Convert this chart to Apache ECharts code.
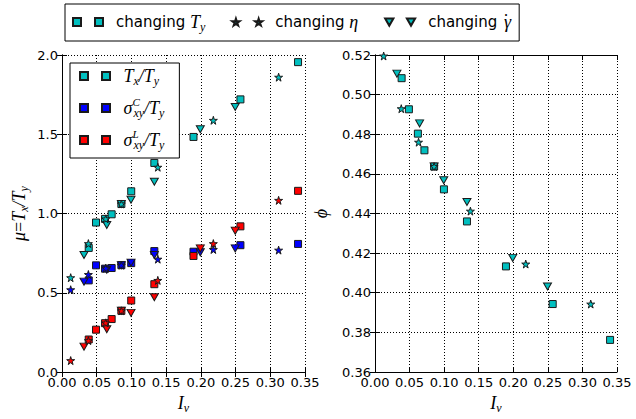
<!DOCTYPE html>
<html>
<head>
<meta charset="utf-8">
<script src="https://cdn.jsdelivr.net/npm/echarts@6/dist/echarts.min.js"></script>
<style>html,body{margin:0;padding:0;background:#fff;}#c{width:636px;height:419px;}</style>
</head>
<body>
<div id="c"></div>
<script>
// ---- data ----
// changing T_y (squares)
const IvSq   = [0.0385, 0.049, 0.062, 0.0715, 0.0855, 0.0997, 0.133, 0.1894, 0.257, 0.340];
const muSq   = [0.783, 0.943, 0.966, 0.995, 1.060, 1.140, 1.319, 1.483, 1.720, 1.955];
const sigCSq = [0.578, 0.673, 0.652, 0.656, 0.674, 0.687, 0.763, 0.759, 0.800, 0.808];
const sigLSq = [0.205, 0.267, 0.308, 0.334, 0.386, 0.451, 0.554, 0.732, 0.919, 1.143];
const phiSq  = [0.5083, 0.4926, 0.4803, 0.4719, 0.4637, 0.4522, 0.4360, 0.4133, 0.3943, 0.3762];
// changing eta (stars)
const IvSt   = [0.0125, 0.038, 0.063, 0.0855, 0.138, 0.218, 0.312];
const muSt   = [0.595, 0.810, 0.966, 1.060, 1.292, 1.588, 1.860];
const sigCSt = [0.519, 0.615, 0.655, 0.674, 0.712, 0.773, 0.769];
const sigLSt = [0.072, 0.198, 0.310, 0.386, 0.578, 0.810, 1.083];
const phiSt  = [0.5195, 0.4929, 0.4760, 0.4637, 0.4412, 0.4145, 0.3943];
// changing gamma-dot (down triangles)
const IvTr   = [0.0317, 0.0645, 0.0855, 0.0994, 0.133, 0.1992, 0.2495];
const muTr   = [0.738, 0.927, 1.060, 1.087, 1.200, 1.532, 1.672];
const sigCTr = [0.570, 0.645, 0.674, 0.690, 0.738, 0.755, 0.780];
const sigLTr = [0.160, 0.270, 0.386, 0.373, 0.472, 0.780, 0.892];
const phiTr  = [0.5106, 0.4855, 0.4637, 0.4568, 0.4458, 0.4176, 0.4032];

const legendTop = ['changing T_y', 'changing eta', 'changing gammadot'];
const legendIn  = ['Tx/Ty', 'sigC/Ty', 'sigL/Ty'];

// ---- styling ----
const CY = '#00bfbf', BL = '#0000ff', RD = '#ff0000';
const EDGE = '#1a1a1a';
const STAR = 'path://M50,0L61,35L98,35L68,57L79,91L50,70L21,91L32,57L2,35L39,35Z';
const TRI = 'path://M0,0L10,0L5,9Z';
const twoSq = 'path://M0,0h8v8h-8z M22,0h8v8h-8z';
const twoStar = 'path://M50,0L61,35L98,35L68,57L79,91L50,70L21,91L32,57L2,35L39,35Z M350,0L361,35L398,35L368,57L379,91L350,70L321,91L332,57L302,35L339,35Z';
const twoTri = 'path://M0,0h8l-4,7z M21,0h8l-4,7z';

function pts(xs, ys) { return xs.map((x, i) => [x, ys[i]]); }
function sc(name, xi, yi, xs, ys, color, kind, z) {
  let symbol = 'rect', size = 7;
  if (kind === 'star') { symbol = STAR; size = [8, 8]; }
  if (kind === 'tri') { symbol = TRI; size = [8, 7]; }
  return {
    type: 'scatter', name: name, xAxisIndex: xi, yAxisIndex: yi,
    data: pts(xs, ys), symbol: symbol, symbolSize: size, z: z,
    itemStyle: { color: color, borderColor: EDGE, borderWidth: 1, opacity: 1 },
    emphasis: { disabled: true }
  };
}

const mathFont = 'Liberation Serif';
const rich = {
  m:   { fontFamily: mathFont, fontStyle: 'italic', fontSize: 18, color: '#000' },
  n:   { fontFamily: mathFont, fontSize: 18, color: '#000' },
  sub: { fontFamily: mathFont, fontStyle: 'italic', fontSize: 12, color: '#000', padding: [10, 0, 0, 0] },
  sup: { fontFamily: mathFont, fontStyle: 'italic', fontSize: 11, color: '#000', padding: [0, 0, 13, 0], width: 1 },
  dt:  { fontFamily: mathFont, fontSize: 18, color: '#000', width: 1, padding: [0, 0, 2, 1] },
  sp:  { width: 8 },
  t:   { fontFamily: 'DejaVu Sans', fontSize: 15, color: '#000' }
};
const legendText = {
  'changing T_y': '{sp|}{t|changing }{m|T}{sub|y}',
  'changing eta': '{sp|}{t|changing }{m|η}',
  'changing gammadot': '{sp|}{t|changing }{dt|˙}{m|γ}',
  'Tx/Ty': '{sp|}{m|T}{sub|x}{m|/T}{sub|y}',
  'sigC/Ty': '{sp|}{m|σ}{sup|C}{sub|xy}{m|/T}{sub|y}',
  'sigL/Ty': '{sp|}{m|σ}{sup|L}{sub|xy}{m|/T}{sub|y}'
};

const tickFont = { fontFamily: 'DejaVu Sans', fontSize: 13, color: '#000' };
const axLine = { show: true, lineStyle: { color: '#000', width: 1 } };
const tick = { show: true, inside: true, length: 5, lineStyle: { color: '#000', width: 1 } };
const grid = { show: true, lineStyle: { color: '#000', width: 1, type: [1, 2] } };

function xAx(gi, pos, withLabel, name) {
  return {
    type: 'value', gridIndex: gi, position: pos, min: 0, max: 0.35, interval: 0.05,
    axisLine: axLine, axisTick: tick, splitLine: pos === 'bottom' ? grid : { show: false },
    axisLabel: withLabel ? Object.assign({ margin: 4, formatter: v => v.toFixed(2) }, tickFont) : { show: false },
    name: name || '', nameLocation: 'middle', nameGap: 20,
    nameTextStyle: { rich: rich }
  };
}
function yAx(gi, pos, min, max, interval, dec, withLabel, name, gap) {
  return {
    type: 'value', gridIndex: gi, position: pos, min: min, max: max, interval: interval,
    axisLine: axLine, axisTick: tick, splitLine: pos === 'left' ? grid : { show: false },
    axisLabel: withLabel ? Object.assign({ margin: 4, formatter: v => v.toFixed(dec) }, tickFont) : { show: false },
    name: name || '', nameLocation: 'middle', nameGap: gap || 30, nameRotate: 90,
    nameTextStyle: { rich: rich }
  };
}

const series = [
  // left panel: squares, triangles, stars
  sc('Tx/Ty', 0, 0, IvSq, muSq, CY, 'sq', 2),
  sc('sigC/Ty', 0, 0, IvSq, sigCSq, BL, 'sq', 2),
  sc('sigL/Ty', 0, 0, IvSq, sigLSq, RD, 'sq', 2),
  sc('muTr', 0, 0, IvTr, muTr, CY, 'tri', 3),
  sc('cTr', 0, 0, IvTr, sigCTr, BL, 'tri', 3),
  sc('lTr', 0, 0, IvTr, sigLTr, RD, 'tri', 3),
  sc('muSt', 0, 0, IvSt, muSt, CY, 'star', 4),
  sc('cSt', 0, 0, IvSt, sigCSt, BL, 'star', 4),
  sc('lSt', 0, 0, IvSt, sigLSt, RD, 'star', 4),
  // right panel
  sc('changing T_y', 2, 2, IvSq, phiSq, CY, 'sq', 2),
  sc('changing gammadot', 2, 2, IvTr, phiTr, CY, 'tri', 3),
  sc('changing eta', 2, 2, IvSt, phiSt, CY, 'star', 4)
];

const chart = echarts.init(document.getElementById('c'), null, { renderer: 'svg' });
chart.setOption({
  animation: false,
  backgroundColor: '#fff',
  grid: [
    { left: 62, right: 331, top: 55, bottom: 39 },
    { left: 62, right: 331, top: 55, bottom: 39 },
    { left: 375, right: 19, top: 55, bottom: 39 },
    { left: 375, right: 19, top: 55, bottom: 39 }
  ],
  xAxis: [
    xAx(0, 'bottom', true, '{m|I}{sub|v}'),
    xAx(0, 'top', false),
    xAx(2, 'bottom', true, '{m|I}{sub|v}'),
    xAx(2, 'top', false)
  ],
  yAxis: [
    yAx(0, 'left', 0, 2, 0.5, 1, true, '{m|μ}{n|=}{m|T}{sub|x}{m|/T}{sub|y}', 32),
    yAx(0, 'right', 0, 2, 0.5, 1, false),
    yAx(2, 'left', 0.36, 0.52, 0.02, 2, true, '{m|ϕ}', 45),
    yAx(2, 'right', 0.36, 0.52, 0.02, 2, false)
  ],
  legend: [
    {
      data: [
        { name: 'changing T_y', icon: twoSq },
        { name: 'changing eta', icon: twoStar },
        { name: 'changing gammadot', icon: twoTri }
      ],
      orient: 'horizontal', left: 65, top: 4, itemWidth: 30, itemHeight: 8, itemGap: 26,
      padding: [8, 8, 8, 7], borderColor: '#000', borderWidth: 1, backgroundColor: '#fff',
      selectedMode: false, formatter: n => legendText[n], textStyle: { rich: rich }
    },
    {
      data: [
        { name: 'Tx/Ty', icon: twoSq },
        { name: 'sigC/Ty', icon: twoSq },
        { name: 'sigL/Ty', icon: twoSq }
      ],
      orient: 'vertical', left: 70, top: 63, itemWidth: 31, itemHeight: 8, itemGap: 9,
      padding: [4, 15, 7, 9], borderColor: '#000', borderWidth: 1, backgroundColor: '#fff',
      selectedMode: false, formatter: n => legendText[n], textStyle: { rich: rich }, z: 10
    }
  ],
  series: series
});
</script>
</body>
</html>
